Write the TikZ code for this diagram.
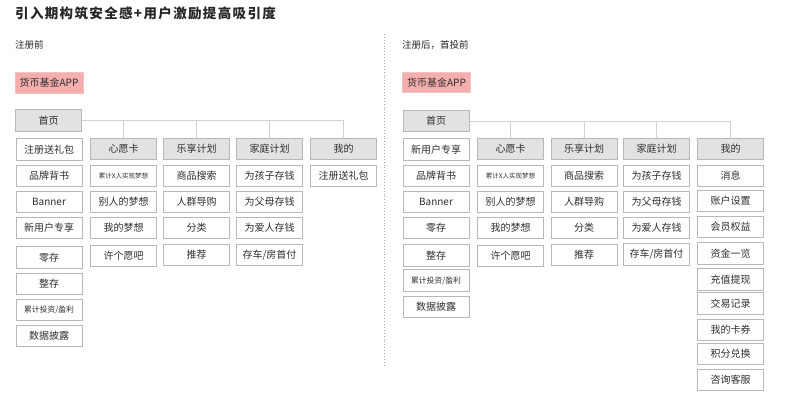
\documentclass[tikz,border=0pt]{standalone}
\usepackage{fontspec}
\setmainfont{Noto Sans CJK SC}
\definecolor{txt}{HTML}{2E2E2E}
\definecolor{boxline}{HTML}{B8B8B8}
\definecolor{gfill}{HTML}{E2E2E5}
\definecolor{rfill}{HTML}{F4AEAE}
\definecolor{rline}{HTML}{F0C4C4}
\definecolor{conn}{HTML}{D0D0D0}
\tikzset{
  box/.style={draw=boxline, fill=white, line width=1pt, minimum width=66pt, minimum height=21.5pt, inner sep=0pt, text=txt, font=\fontsize{10}{10}\selectfont},
  gbox/.style={box, fill=gfill},
  rbox/.style={box, fill=rfill, draw=rline, minimum width=68pt, minimum height=20.5pt},
  small/.style={font=\fontsize{6.5}{7}\selectfont},
  mid/.style={font=\fontsize{7.8}{8}\selectfont},
  link/.style={draw=conn, line width=0.8pt},
  lbl/.style={anchor=west, inner sep=0pt, text=black!85, font=\fontsize{9.5}{10}\selectfont},
}
\begin{document}
\begin{tikzpicture}[x=1pt,y=-1pt]
\useasboundingbox[fill=white] (0,0) rectangle (800,412);
\node[anchor=west, inner sep=0pt, text=black!85, font=\fontsize{13.5}{14}\selectfont\bfseries\addfontfeature{LetterSpace=10}] (title) at (15,13) {引入期构筑安全感+用户激励提高吸引度};
% divider
\coordinate (dtop) at (384,34);
\coordinate (dbot) at (384,367);
\draw[gray!70, line width=0.9pt, dotted] (dtop) -- (dbot);

% ===== left panel =====
\node[lbl] (lsub) at (15,45) {注册前};
\node[rbox] (lapp) at (49,83) {货币基金APP};
\node[gbox] (lhome) at (48.5,120.5) {首页};
% column 1
\node[box] (l11) at (49,149.5) {注册送礼包};
\node[box] (l12) at (49,176) {品牌背书};
\node[box] (l13) at (49,202) {Banner};
\node[box] (l14) at (49,228) {新用户专享};
\node[box] (l15) at (49,257.5) {零存};
\node[box] (l16) at (49,284) {整存};
\node[box,mid] (l17) at (49,310) {累计投资/盈利};
\node[box] (l18) at (49,336) {数据披露};
% column 2
\node[gbox] (l2) at (123.5,149) {心愿卡};
\node[box,small] (l21) at (123.5,176) {累计X人实现梦想};
\node[box] (l22) at (123.5,202) {别人的梦想};
\node[box] (l23) at (123.5,228) {我的梦想};
\node[box] (l24) at (123.5,256) {许个愿吧};
% column 3
\node[gbox] (l3) at (196.5,149) {乐享计划};
\node[box] (l31) at (196.5,176) {商品搜索};
\node[box] (l32) at (196.5,202) {人群导购};
\node[box] (l33) at (196.5,228) {分类};
\node[box] (l34) at (196.5,255) {推荐};
% column 4
\node[gbox] (l4) at (269.5,149) {家庭计划};
\node[box] (l41) at (269.5,176) {为孩子存钱};
\node[box] (l42) at (269.5,202) {为父母存钱};
\node[box] (l43) at (269.5,228) {为爱人存钱};
\node[box] (l44) at (269.5,255) {存车/房首付};
% column 5
\node[gbox] (l5) at (343.5,149) {我的};
\node[box] (l51) at (343.5,176) {注册送礼包};
% connectors
\draw[link] (lhome.east) -| (l2.north);
\draw[link] (lhome.east) -| (l3.north);
\draw[link] (lhome.east) -| (l4.north);
\draw[link] (lhome.east) -| (l5.north);

% ===== right panel =====
\node[lbl] (rsub) at (402,45) {注册后，首投前};
\node[rbox] (rapp) at (436.5,82.5) {货币基金APP};
\node[gbox] (rhome) at (436,121) {首页};
% column 1
\node[box] (r11) at (436,149.5) {新用户专享};
\node[box] (r12) at (436,176) {品牌背书};
\node[box] (r13) at (436,202) {Banner};
\node[box] (r14) at (436,228) {零存};
\node[box] (r15) at (436,255.5) {整存};
\node[box,mid] (r16) at (436,280.5) {累计投资/盈利};
\node[box] (r17) at (436,307) {数据披露};
% column 2
\node[gbox] (r2) at (510.5,149) {心愿卡};
\node[box,small] (r21) at (510.5,176) {累计X人实现梦想};
\node[box] (r22) at (510.5,202) {别人的梦想};
\node[box] (r23) at (510.5,228) {我的梦想};
\node[box] (r24) at (510.5,256) {许个愿吧};
% column 3
\node[gbox] (r3) at (584,149) {乐享计划};
\node[box] (r31) at (584,176) {商品搜索};
\node[box] (r32) at (584,202) {人群导购};
\node[box] (r33) at (584,228) {分类};
\node[box] (r34) at (584,255) {推荐};
% column 4
\node[gbox] (r4) at (656.5,149) {家庭计划};
\node[box] (r41) at (656.5,176) {为孩子存钱};
\node[box] (r42) at (656.5,202) {为父母存钱};
\node[box] (r43) at (656.5,228) {为爱人存钱};
\node[box] (r44) at (656.5,254.5) {存车/房首付};
% column 5
\node[gbox] (r5) at (730.5,149) {我的};
\node[box] (r51) at (730.5,176) {消息};
\node[box] (r52) at (730.5,201) {账户设置};
\node[box] (r53) at (730.5,227) {会员权益};
\node[box] (r54) at (730.5,253.5) {资金一览};
\node[box] (r55) at (730.5,279.5) {充值提现};
\node[box] (r56) at (730.5,303.5) {交易记录};
\node[box] (r57) at (730.5,330) {我的卡券};
\node[box] (r58) at (730.5,354) {积分兑换};
\node[box] (r59) at (730.5,380) {咨询客服};
% connectors
\draw[link] (rhome.east) -| (r2.north);
\draw[link] (rhome.east) -| (r3.north);
\draw[link] (rhome.east) -| (r4.north);
\draw[link] (rhome.east) -| (r5.north);
\end{tikzpicture}
\end{document}
